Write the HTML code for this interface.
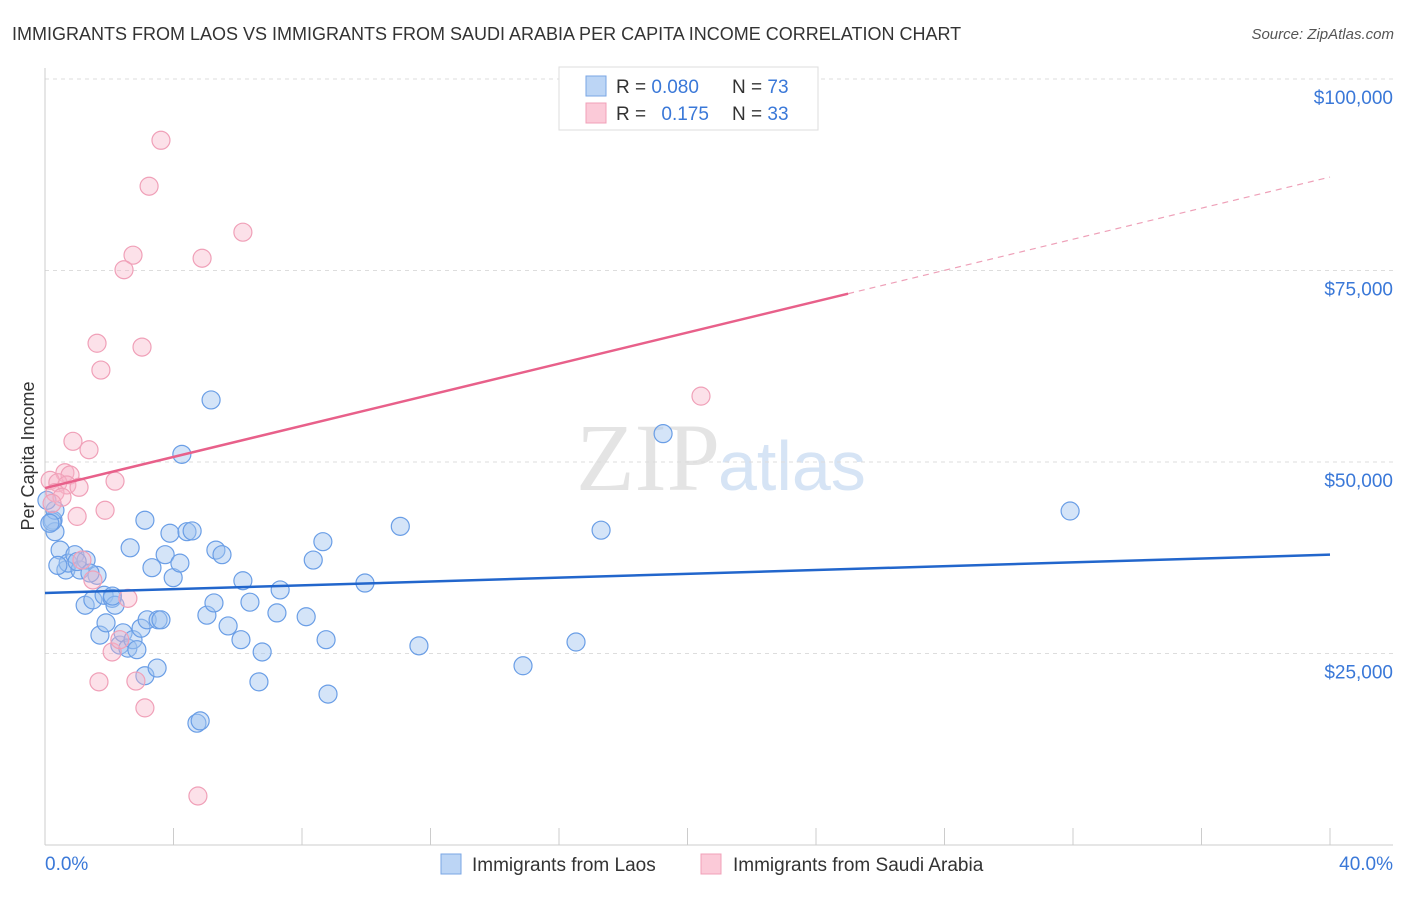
<!DOCTYPE html>
<html><head><meta charset="utf-8"><style>
body{margin:0;background:#fff;font-family:"Liberation Sans",sans-serif}
</style></head><body>
<svg id="c" width="1406" height="892" xmlns="http://www.w3.org/2000/svg" font-family="Liberation Sans, sans-serif">
<text x="12" y="40" font-size="18" fill="#333">IMMIGRANTS FROM LAOS VS IMMIGRANTS FROM SAUDI ARABIA PER CAPITA INCOME CORRELATION CHART</text>
<text x="1394" y="39" font-size="15" fill="#555" text-anchor="end" font-style="italic">Source: ZipAtlas.com</text>
<text transform="translate(34,456) rotate(-90)" font-size="18" fill="#333" text-anchor="middle">Per Capita Income</text>
<text x="720" y="490" font-size="96" fill="#e4e4e4" text-anchor="end" font-family="Liberation Serif, serif">ZIP</text>
<text x="718" y="490" font-size="70" fill="#d6e4f5">atlas</text>
<g id="grid"></g><g id="pts"></g><g id="lines"></g>
<g>
<rect x="559" y="67" width="259" height="63" fill="#fff" stroke="#ddd"/>
<rect x="586" y="76" width="20" height="20" fill="#bcd5f5" stroke="#7aa6e4"/>
<rect x="586" y="103" width="20" height="20" fill="#fbcad8" stroke="#f0a0b8"/>
<text x="616" y="93" font-size="19" fill="#333">R = <tspan fill="#3a78d8">0.080</tspan></text>
<text x="732" y="93" font-size="19" fill="#333">N = <tspan fill="#3a78d8">73</tspan></text>
<text x="616" y="120" font-size="19" fill="#333">R = <tspan fill="#3a78d8" dx="10">0.175</tspan></text>
<text x="732" y="120" font-size="19" fill="#333">N = <tspan fill="#3a78d8">33</tspan></text>
</g>
<g>
<rect x="441" y="854" width="20" height="20" fill="#bcd5f5" stroke="#7aa6e4"/>
<text x="472" y="871" font-size="19" fill="#333">Immigrants from Laos</text>
<rect x="701" y="854" width="20" height="20" fill="#fbcad8" stroke="#f0a0b8"/>
<text x="733" y="871" font-size="19" fill="#333">Immigrants from Saudi Arabia</text>
</g>
<text x="45" y="870" font-size="19" fill="#3a78d8">0.0%</text>
<text x="1393" y="870" font-size="19" fill="#3a78d8" text-anchor="end">40.0%</text>
</svg>
<script>
const yTicks=[25000,50000,75000,100000];
const yTickLabels=["$25,000","$50,000","$75,000","$100,000"];
const xTicks=[0,4,8,12,16,20,24,28,32,36,40];
const laosX=[0.25,0.31,0.22,0.47,0.65,0.72,0.93,1.09,1.28,1.25,1.49,1.62,1.71,1.84,1.9,2.09,2.18,2.33,2.43,2.58,2.74,2.86,2.99,3.11,2.65,3.18,3.11,3.49,3.33,3.52,3.61,3.74,3.89,3.99,4.2,4.26,4.42,4.58,4.73,4.83,5.04,5.17,5.26,5.32,5.51,5.7,6.1,6.16,6.38,6.66,6.76,7.22,7.32,8.13,8.35,8.65,8.75,8.81,9.96,11.06,11.64,14.88,16.53,17.31,19.24,31.91,0.31,0.06,0.4,1.0,1.4,2.1,0.15];
const laosY=[42.4,40.9,42.2,38.5,35.9,36.8,37.9,35.9,37.2,31.3,32.0,35.2,27.4,32.6,29.0,32.2,31.3,26.1,27.7,25.7,26.8,25.5,28.3,42.4,38.8,29.4,22.1,23.1,36.2,29.4,29.4,37.9,40.7,34.9,36.8,51.0,40.9,41.0,15.9,16.2,30.0,58.1,31.6,38.5,37.9,28.6,26.8,34.5,31.7,21.3,25.2,30.3,33.3,29.8,37.2,39.6,26.8,19.7,34.2,41.6,26.0,23.4,26.5,41.1,53.7,43.6,43.7,45.0,36.5,37.0,35.5,32.5,42.0];
const saudiX=[3.61,3.24,6.16,2.74,2.46,4.89,1.62,3.02,1.74,20.42,0.87,1.37,0.62,0.78,0.16,0.40,0.68,1.06,2.18,0.31,0.53,0.22,1.00,1.87,1.15,1.49,2.58,2.09,2.33,1.68,2.83,3.11,4.76];
const saudiY=[92.0,86.0,80.0,77.0,75.1,76.6,65.5,65.0,62.0,58.6,52.7,51.6,48.6,48.3,47.6,47.3,47.0,46.7,47.5,46.0,45.4,44.6,42.9,43.7,37.2,34.6,32.2,25.2,26.8,21.3,21.4,17.9,6.4];
const laosTrend=[32.9,37.9];
const saudiTrend=[46.6,87.2];
const NS="http://www.w3.org/2000/svg";
const X=v=>45+v/40*1285;
const Y=v=>845-v/25000*191.5;
function mk(t,a,p){const e=document.createElementNS(NS,t);for(const k in a)e.setAttribute(k,a[k]);p.appendChild(e);return e;}
const grid=document.getElementById('grid');
yTicks.forEach((t,i)=>{
 const l=mk('line',{x1:45,x2:1393,y1:Y(t),y2:Y(t),stroke:'#ddd','stroke-dasharray':'4,4'},grid);
 
 
 const tx=mk('text',{x:1393,y:Y(t)+25,'font-size':19,fill:'#3a78d8','text-anchor':'end'},grid);
 tx.textContent=yTickLabels[i];
 
 
});
const ax=mk('line',{x1:45,x2:1393,y1:845,y2:845,stroke:'#ccc'},grid);


const ay=mk('line',{x1:45,x2:45,y1:68,y2:845,stroke:'#ccc'},grid);


xTicks.forEach(t=>{
 const l=mk('line',{x1:X(t),x2:X(t),y1:828,y2:845,stroke:'#ccc'},grid);
 
 
});
const pts=document.getElementById('pts');
laosX.forEach((x,i)=>{
 const c=mk('circle',{cx:X(x),cy:Y(laosY[i]*1000),r:9,fill:'rgba(160,196,240,0.45)',stroke:'#6a9ee6','stroke-width':1.2},pts);
 
 
});
saudiX.forEach((x,i)=>{
 const c=mk('circle',{cx:X(x),cy:Y(saudiY[i]*1000),r:9,fill:'rgba(248,180,200,0.4)',stroke:'#f0a0b8','stroke-width':1.2},pts);
 
 
});
const lines=document.getElementById('lines');
const bl=mk('line',{x1:X(0),y1:Y(laosTrend[0]*1000),x2:X(40),y2:Y(laosTrend[1]*1000),stroke:'#2266cc','stroke-width':2.5},lines);


const s25=saudiTrend[0]+(saudiTrend[1]-saudiTrend[0])*25/40;
const pl=mk('line',{x1:X(0),y1:Y(saudiTrend[0]*1000),x2:X(25),y2:Y(s25*1000),stroke:'#e8608a','stroke-width':2.5},lines);


const pd=mk('line',{x1:X(25),y1:Y(s25*1000),x2:X(40),y2:Y(saudiTrend[1]*1000),stroke:'#eea0b8','stroke-width':1.2,'stroke-dasharray':'6,5'},lines);


</script>
</body></html>
